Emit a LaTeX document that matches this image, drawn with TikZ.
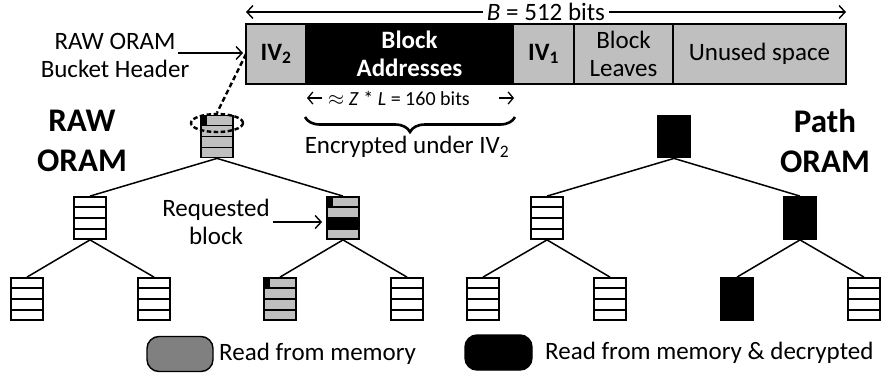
\documentclass[tikz,border=0pt]{standalone}
\usepackage{fontspec}
\setmainfont{Carlito}
\usetikzlibrary{
    calc,
    positioning,
    shapes.geometric,
    decorations.pathreplacing,
    arrows.meta
}
\tikzset{
    bucket/.style={draw, line width=1.8pt, minimum width=32pt, minimum height=42pt, inner sep=0pt},
    rowline/.style={line width=1.4pt},
    treeedge/.style={line width=1.5pt},
    seg/.style={draw, line width=1.5pt, fill=black!25, minimum height=60pt, inner sep=0pt, outer sep=0pt, align=center, font=\fontsize{25}{28}\selectfont},
    legendbox/.style={draw, line width=1.4pt, rounded corners=12pt, minimum width=66pt, minimum height=35pt},
    txt/.style={font=\fontsize{25}{28}\selectfont, align=center},
    bigtxt/.style={font=\fontsize{33}{40}\selectfont\bfseries, align=center},
    >={Straight Barb[length=6pt,width=13pt]}
}
\begin{document}
\begin{tikzpicture}[x=1pt, y=-1pt]
    \useasboundingbox (0,0) rectangle (881,375);

    % bucket header
    \node[seg, minimum width=60pt, font=\fontsize{25}{28}\selectfont\bfseries] (iv2) at (276,54) {IV\textsubscript{2}};
    \node[seg, minimum width=207pt, fill=black, text=white, font=\fontsize{25}{28}\selectfont\bfseries, right=0pt of iv2] (addr) {Block\\Addresses};
    \node[seg, minimum width=61pt, font=\fontsize{25}{28}\selectfont\bfseries, right=0pt of addr] (iv1) {IV\textsubscript{1}};
    \node[seg, minimum width=99pt, right=0pt of iv1] (leaves) {Block\\Leaves};
    \node[seg, minimum width=173pt, right=0pt of leaves] (unused) {Unused space};

    \coordinate (bl) at ($(iv2.north west)+(0,-12)$);
    \coordinate (br) at ($(unused.north east)+(0,-12)$);
    \node[txt, inner sep=4pt] (blab) at ($(bl)!0.5!(br)$) {\textit{B} = 512 bits};
    \draw[->, line width=1.4pt] (blab) -- (bl);
    \draw[->, line width=1.4pt] (blab) -- (br);

    \node[font=\fontsize{20}{24}\selectfont] (zl) at (399,98) {$\approx$ \textit{Z} * \textit{L} = 160 bits};
    \coordinate (zlw) at ($(addr.south west)+(1,14)$);
    \coordinate (zle) at ($(addr.south east)+(1,14)$);
    \draw[->, line width=1.3pt, >={Straight Barb[length=5pt,width=12pt]}] ($(zlw)+(15,0)$) -- (zlw);
    \draw[->, line width=1.3pt, >={Straight Barb[length=5pt,width=12pt]}] ($(zle)+(-15,0)$) -- (zle);

    \coordinate (bra) at (305,117);
    \coordinate (brb) at (515,117);
    \draw[decorate, decoration={brace, mirror, amplitude=15pt}, line width=2.6pt] (bra) -- (brb);
    \node[txt] (enc) at (407,147) {Encrypted under IV\textsubscript{2}};

    \node[txt] (hdrlab) at (115,55) {RAW ORAM\\Bucket Header};
    \coordinate (hdrarr) at (178,53);
    \draw[->, line width=1.4pt, shorten >=3pt] (hdrarr) -- (hdrarr -| iv2.west);

    % RAW ORAM tree
    \node[bucket, fill=black!25] (r0) at (217,136.5) {};
    \node[bucket] (r1) at (90,218) {};
    \node[bucket, fill=black!25] (r2) at (343,218) {};
    \node[bucket] (r3) at (27,299) {};
    \node[bucket] (r4) at (154,299) {};
    \node[bucket, fill=black!25] (r5) at (280,299) {};
    \node[bucket] (r6) at (407,299) {};

    % Path ORAM tree
    \node[bucket, fill=black] (p0) at (674,136.5) {};
    \node[bucket] (p1) at (547,218) {};
    \node[bucket, fill=black] (p2) at (800,218) {};
    \node[bucket] (p3) at (483,299) {};
    \node[bucket] (p4) at (610,299) {};
    \node[bucket, fill=black] (p5) at (737,299) {};
    \node[bucket] (p6) at (864,299) {};

    \foreach \t in {r,p} {
        \draw[treeedge] (\t0.south) -- (\t1.north);
        \draw[treeedge] (\t0.south) -- (\t2.north);
        \draw[treeedge] (\t1.south) -- (\t3.north);
        \draw[treeedge] (\t1.south) -- (\t4.north);
        \draw[treeedge] (\t2.south) -- (\t5.north);
        \draw[treeedge] (\t2.south) -- (\t6.north);
    }

    % encrypted header parts
    \foreach \n in {r0,r2,r5} {
        \fill (\n.north west) rectangle ($(\n.north west)+(7,10.5)$);
    }
    \fill ($(r2.north west)!0.5!(r2.south west)$) rectangle ($(r2.north east)!0.75!(r2.south east)$);

    \foreach \n in {r0,r1,r2,r3,r4,r5,r6,p1,p3,p4,p6} {
        \foreach \i in {1,2,3} {
            \draw[rowline] ($(\n.north west)!\i/4!(\n.south west)$) -- ($(\n.north east)!\i/4!(\n.south east)$);
        }
    }

    \node[ellipse, draw, dash pattern=on 4.5pt off 2.5pt, line width=2.4pt, minimum width=52pt, minimum height=18pt, inner sep=0pt] (hdr) at (217,123) {};
    \draw[line width=2.4pt, dash pattern=on 5pt off 3pt] (iv2.west) -- (hdr.north);

    \node[txt] (reqlab) at (216,222) {Requested\\block};
    \draw[->, line width=1.4pt, shorten >=4pt] (reqlab.east) -- (reqlab.east -| r2.west);

    \node[bigtxt] (rawlab) at (82,141) {RAW\\ORAM};
    \node[bigtxt] (pathlab) at (825,141) {Path\\ORAM};

    % legend
    \node[legendbox, fill=black!50] (lgray) at (180,354) {};
    \node[txt, right=2pt of lgray] (lgraytxt) {Read from memory};
    \node[legendbox, fill=black, minimum width=67pt] (lblack) at (498.5,352.5) {};
    \node[txt, right=9pt of lblack] (lblacktxt) {Read from memory \& decrypted};
\end{tikzpicture}
\end{document}
